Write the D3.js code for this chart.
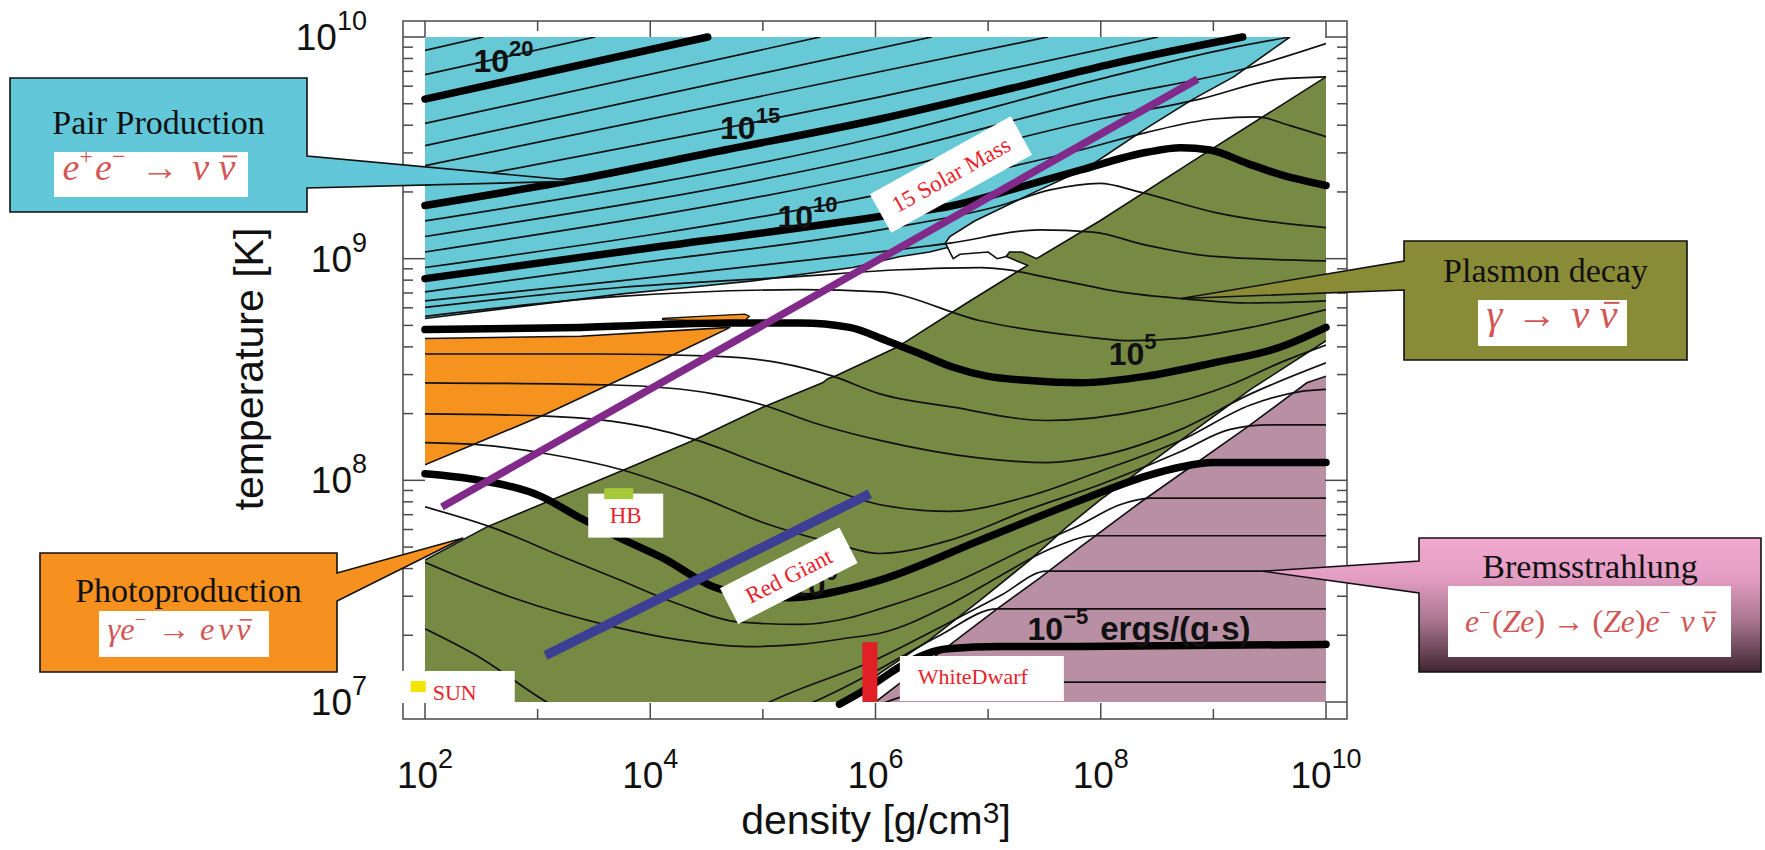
<!DOCTYPE html>
<html>
<head>
<meta charset="utf-8">
<script src="https://cdn.jsdelivr.net/npm/d3@7/dist/d3.min.js"></script>
<style>
html,body{margin:0;padding:0;background:#fff;}
svg{display:block;}
</style>
</head>
<body>
<svg id="chart" width="1765" height="850"></svg>
<script>
// ================= DATA (log10 density [g/cm^3], log10 temperature [K]) =================
const densityTickExps = [2,3,4,5,6,7,8,9,10];
const densityLabelExps = [2,4,6,8,10];
const temperatureLabelExps = [7,8,9,10];

// emissivity contour lines, level = log10(ergs/(g s))
const contours = [
 {level:22, pts:[[2.00,9.94],[2.52,10.00]]},
 {level:21, pts:[[2.00,9.83],[3.51,10.00]]},
 {level:20, pts:[[2.00,9.72],[4.51,10.00]]},
 {level:19, pts:[[2.00,9.61],[5.51,10.00]]},
 {level:18, pts:[[2.00,9.51],[6.50,10.00]]},
 {level:17, pts:[[2.00,9.42],[7.53,10.00]]},
 {level:16, pts:[[2.00,9.33],[6.04,9.73],[8.51,10.00]]},
 {level:15, pts:[[2.00,9.24],[3.38,9.36],[4.56,9.48],[6.04,9.63],[7.22,9.77],[8.11,9.88],[9.26,10.00]]},
 {level:14, pts:[[2.00,9.17],[6.04,9.55],[7.99,9.81],[9.15,9.95],[9.68,10.00]]},
 {level:13, pts:[[2.00,9.10],[6.04,9.47],[7.99,9.72],[9.30,9.86],[10.00,9.97]]},
 {level:12, pts:[[2.00,9.03],[6.04,9.39],[7.99,9.63],[8.88,9.72],[9.59,9.81],[10.00,9.82]]},
 {level:11, pts:[[2.00,8.96],[6.04,9.29],[7.82,9.49],[8.41,9.57],[9.00,9.63],[9.39,9.64],[9.68,9.60],[10.00,9.55]]},
 {level:10, pts:[[2.00,8.91],[3.73,9.03],[6.04,9.19],[6.69,9.24],[7.20,9.31],[7.82,9.40],[8.41,9.48],[8.71,9.50],[8.97,9.49],[9.30,9.43],[9.59,9.38],[10.00,9.33]]},
 {level:9,  pts:[[2.00,8.85],[3.73,8.97],[6.04,9.13],[7.11,9.24],[7.55,9.31],[7.99,9.34],[8.35,9.30],[9.00,9.21],[10.00,9.14]]},
 {level:8,  pts:[[2.00,8.81],[3.73,8.90],[5.33,8.99],[6.66,9.07],[7.46,9.13],[7.93,9.12],[8.41,9.06],[9.00,9.01],[10.00,8.99]]},
 {level:7,  pts:[[2.00,8.78],[3.73,8.87],[5.33,8.92],[6.22,8.95],[6.93,8.96],[7.67,8.90],[8.17,8.85],[8.71,8.82],[9.33,8.80],[10.00,8.81]]},
 {level:6,  pts:[[2.00,8.74],[3.73,8.83],[5.33,8.86],[6.04,8.85],[6.93,8.72],[7.82,8.65],[8.26,8.63],[8.71,8.64],[9.33,8.69],[10.00,8.77]]},
 {level:5,  pts:[[2.00,8.68],[3.38,8.69],[4.71,8.71],[5.33,8.71],[5.77,8.69],[6.10,8.63],[6.40,8.57],[6.69,8.51],[6.99,8.47],[7.37,8.45],[7.82,8.44],[8.41,8.47],[9.00,8.53],[9.59,8.60],[10.00,8.69]]},
 {level:4,  pts:[[2.00,8.57],[3.55,8.57],[4.56,8.56],[5.15,8.53],[5.62,8.47],[6.04,8.39],[6.69,8.33],[7.52,8.27],[8.41,8.32],[9.15,8.43],[9.59,8.53],[10.00,8.61]]},
 {level:3,  pts:[[2.00,8.44],[3.67,8.43],[4.56,8.39],[5.00,8.34],[5.45,8.26],[6.04,8.18],[6.93,8.10],[7.52,8.08],[7.99,8.11],[8.71,8.23],[9.33,8.39],[10.00,8.53]]},
 {level:2,  pts:[[2.00,8.30],[3.08,8.29],[3.97,8.24],[4.42,8.18],[5.00,8.07],[5.60,7.96],[6.04,7.89],[6.66,7.86],[7.37,7.93],[7.99,8.04],[8.71,8.18],[9.33,8.34],[9.77,8.40],[10.00,8.41]]},
 {level:1,  pts:[[2.00,8.17],[2.49,8.16],[3.08,8.12],[3.73,8.05],[4.42,7.93],[5.00,7.81],[5.60,7.72],[6.04,7.67],[6.66,7.73],[7.37,7.87],[7.99,7.98],[8.71,8.13],[9.15,8.23],[9.50,8.25],[10.00,8.25]]},
 {level:0,  pts:[[2.00,8.03],[2.49,8.00],[3.02,7.93],[3.38,7.83],[3.73,7.74],[4.11,7.65],[4.56,7.52],[4.89,7.48],[5.24,7.47],[5.75,7.51],[6.04,7.55],[6.93,7.73],[7.82,7.91],[8.41,8.02],[8.71,8.06],[9.00,8.08],[10.00,8.08]]},
 {level:-1, pts:[[2.00,7.88],[2.58,7.79],[3.20,7.66],[3.73,7.55],[4.26,7.44],[4.80,7.36],[5.33,7.35],[5.77,7.38],[6.04,7.42],[6.66,7.53],[7.37,7.70],[7.82,7.80],[8.17,7.89],[8.44,7.92],[10.00,7.92]]},
 {level:-2, pts:[[2.00,7.63],[2.78,7.47],[3.67,7.34],[4.26,7.28],[4.86,7.25],[5.33,7.26],[5.77,7.29],[6.04,7.31],[6.66,7.44],[7.11,7.57],[7.55,7.69],[7.95,7.75],[10.00,7.75]]},
 {level:-3, pts:[[2.00,7.33],[2.49,7.20],[3.08,7.00],[3.70,6.85],[4.50,6.85],[5.06,7.00],[6.04,7.20],[6.66,7.36],[7.11,7.48],[7.52,7.59],[10.00,7.59]]},
 {level:-4, pts:[[4.44,6.85],[5.45,7.00],[6.04,7.15],[6.57,7.30],[7.08,7.42],[10.00,7.42]]},
 {level:-5, pts:[[5.68,6.99],[5.89,7.05],[6.04,7.10],[6.22,7.16],[6.64,7.24],[7.11,7.25],[7.82,7.25],[10.00,7.26]]},
 {level:-6, pts:[[6.04,6.99],[6.40,7.05],[6.75,7.09],[10.00,7.09]]}
];

// region boundaries (dominant process)
const pairEdge = [[9.68,10.00],[9.18,9.82],[8.82,9.72],[8.41,9.59],[7.88,9.41],[7.37,9.29],[6.88,9.17],[6.66,9.10],[6.62,9.07],[6.64,9.05],[6.48,9.03],[6.22,9.01],[5.80,8.96],[4.91,8.90],[4.33,8.87],[3.73,8.84],[2.00,8.73]];
const photoEdge = [[2.00,8.64],[3.38,8.65],[4.71,8.69],[4.26,8.58],[3.08,8.30],[2.00,8.07]];
const photoTongue = [[4.11,8.73],[4.44,8.74],[4.84,8.75],[4.88,8.74],[4.84,8.72],[4.44,8.72],[4.11,8.725]];
const plasmonUpperEdge = [[2.00,7.64],[2.55,7.79],[3.78,8.05],[4.38,8.18],[5.00,8.33],[5.53,8.44],[5.58,8.46],[5.64,8.47],[6.19,8.60],[6.81,8.80],[7.35,8.97],[7.16,9.01],[7.19,9.03],[7.30,9.03],[7.43,9.00],[7.99,9.17],[8.88,9.46],[10.00,9.82]];
const plasmonLowerEdge = [[10.00,8.63],[9.33,8.41],[8.71,8.18],[7.99,7.91],[7.70,7.79],[7.37,7.64],[6.93,7.46],[6.48,7.28],[6.04,7.13],[5.73,7.00]];
const bremsEdge = [[6.00,7.00],[6.64,7.25],[7.08,7.42],[7.46,7.56],[7.82,7.70],[8.35,7.90],[9.30,8.24],[9.83,8.44],[10.00,8.47]];
const pocketEdge = [[6.64,9.05],[6.69,9.00],[6.75,9.02],[7.00,9.03],[7.08,9.00],[7.16,9.01]];

// stellar tracks / objects
const solarMass15 = [[2.15,7.88],[8.86,9.81]];
const redGiant = [[3.07,7.21],[5.95,7.94]];
const hbPoint = [3.72,7.94];
const sunPoint = [1.94,7.07];
const whiteDwarf = [[5.95,7.00],[5.95,7.27]];
const solarLabelAt = [6.67,9.38];
const redGiantLabelAt = [5.23,7.57];

const contourLabels = [
 {base:"10", exp:"20", at:[2.43,9.84]},
 {base:"10", exp:"15", at:[4.62,9.54]},
 {base:"10", exp:"10", at:[5.13,9.14]},
 {base:"10", exp:"5",  at:[8.07,8.52]},
 {base:"10", exp:"0",  at:[5.24,7.48]},
 {base:"10", exp:"\u22125", at:[7.35,7.28], unit:"ergs/(g\u00B7s)"}
];

const formulaPair = [["e","i"],["+","sup"],["e","i"],["\u2212","sup"],[0.35,"sp"],["\u2192","r"],[0.35,"sp"],["\u03BD","i"],[0.25,"sp"],["\u03BD","ib"]];
const formulaPlasmon = [["\u03B3","i"],[0.35,"sp"],["\u2192","r"],[0.35,"sp"],["\u03BD","i"],[0.25,"sp"],["\u03BD","ib"]];
const formulaPhoto = [["\u03B3","i"],["e","i"],["\u2212","sup"],[0.3,"sp"],["\u2192","r"],[0.3,"sp"],["e","i"],[0.12,"sp"],["\u03BD","i"],[0.1,"sp"],["\u03BD","ib"]];
const formulaBrems = [["e","i"],["\u2212","sup"],["(","r"],["Z","i"],["e","i"],[")","r"],[0.25,"sp"],["\u2192","r"],[0.25,"sp"],["(","r"],["Z","i"],["e","i"],[")","r"],["e","i"],["\u2212","sup"],[0.25,"sp"],["\u03BD","i"],[0.2,"sp"],["\u03BD","ib"]];

const callouts = [
 {title:"Pair Production", tip:[3.38,9.35], formula:formulaPair},
 {title:"Plasmon decay",   tip:[8.71,8.82], formula:formulaPlasmon},
 {title:"Photoproduction", tip:[2.34,7.74], formula:formulaPhoto},
 {title:"Bremsstrahlung",  tip:[9.44,7.59], formula:formulaBrems}
];

// ================= STYLE / LAYOUT =================
const colors = {
  cyan:"#67c8d6", orange:"#f6921e", green:"#778a43", mauve:"#b98fa4",
  purple:"#812a8a", blue:"#3c3f94", red:"#e8222b", hb:"#a6c93a", sun:"#f3e500", wd:"#e11f26",
  formula:"#d15757", pairBox:"#61c7d9", plasmonBox:"#8a8b37", photoBox:"#f6911f"
};
const calloutLayout = [
 {x:10,   y:78,  w:297, h:134, side:"right", n0:156, n1:188, fill:colors.pairBox, titleY:134, fb:[54,152,194,45], fcx:149, fy:180, fw:173},
 {x:1404, y:241, w:283, h:119, side:"left",  n0:261, n1:290, fill:colors.plasmonBox, titleY:282, fb:[1478,300,149,46], fcx:1552, fy:328, fw:131},
 {x:40,   y:553, w:297, h:119, side:"right", n0:573, n1:601, fill:colors.photoBox, titleY:602, fb:[99,611,170,46], fcx:179, fy:640, fw:143},
 {x:1419, y:538, w:342, h:134, side:"left",  n0:561, n1:593, fill:"url(#bremsGrad)", titleY:578, fb:[1448,586,283,71], fcx:1590, fy:632, fw:250}
];

const SANS = "'Liberation Sans', Arial, Helvetica, sans-serif";
const SERIF = "'Liberation Serif', 'Times New Roman', serif";

// ================= SCALES =================
const x = d3.scaleLog().domain([1e2,1e10]).range([425,1326]);
const y = d3.scaleLog().domain([1e7,1e10]).range([702,37]);
const px = d => x(Math.pow(10,d[0]));
const py = d => y(Math.pow(10,d[1]));
const smooth = d3.line().x(px).y(py).curve(d3.curveMonotoneX);
const straight = d3.line().x(px).y(py);
const closed = d3.line().x(px).y(py).curve(d3.curveLinearClosed);

const svg = d3.select("#chart");
const defs = svg.append("defs");
const X0 = x.range()[0], X1 = x.range()[1], Y0 = y.range()[1], Y1 = y.range()[0];
defs.append("clipPath").attr("id","clipData").append("rect")
  .attr("x",X0).attr("y",Y0).attr("width",X1-X0).attr("height",Y1-Y0);
defs.append("clipPath").attr("id","clipThick").append("rect")
  .attr("x",X0-6).attr("y",Y0-6).attr("width",X1-X0+12).attr("height",Y1-Y0+12);
const grad = defs.append("linearGradient").attr("id","bremsGrad").attr("x1",0).attr("y1",0).attr("x2",0).attr("y2",1);
[["0%","#f3a9d1"],["30%","#e39dc3"],["62%","#a8758f"],["100%","#40252f"]].forEach(s=>grad.append("stop").attr("offset",s[0]).attr("stop-color",s[1]));

svg.append("rect").attr("width",1765).attr("height",850).attr("fill","#fff");

// ---------- regions ----------
const gReg = svg.append("g").attr("clip-path","url(#clipData)");
gReg.append("path").attr("d", closed([[2,10], ...pairEdge])).attr("fill", colors.cyan);
gReg.append("path").attr("d", closed(photoEdge)).attr("fill", colors.orange);
gReg.append("path").attr("d", closed([[2,7], ...plasmonUpperEdge, ...plasmonLowerEdge])).attr("fill", colors.green);
gReg.append("path").attr("d", closed([...bremsEdge, [10,7]])).attr("fill", colors.mauve);

// ---------- thin contours ----------
const gThin = svg.append("g").attr("clip-path","url(#clipData)");
gThin.selectAll("path").data(contours.filter(c => c.level % 5 !== 0)).join("path")
  .attr("d", c => smooth(c.pts)).attr("fill","none").attr("stroke","#111").attr("stroke-width",1.7);

// ---------- region outlines ----------
const gEdge = svg.append("g").attr("clip-path","url(#clipData)").attr("fill","none").attr("stroke","#111").attr("stroke-width",1.6);
[pairEdge, photoEdge, plasmonUpperEdge, plasmonLowerEdge, bremsEdge, pocketEdge].forEach(e => gEdge.append("path").attr("d", straight(e)));
svg.append("path").attr("d", closed(photoTongue)).attr("fill", colors.orange).attr("stroke","#111").attr("stroke-width",1.3);

// ---------- thick contours ----------
const gThick = svg.append("g").attr("clip-path","url(#clipThick)");
gThick.selectAll("path").data(contours.filter(c => c.level % 5 === 0)).join("path")
  .attr("d", c => smooth(c.pts)).attr("fill","none").attr("stroke","#000")
  .attr("stroke-width",7.5).attr("stroke-linecap","round").attr("stroke-linejoin","round");

// ---------- frame & ticks ----------
const F = {l:403, t:21, r:1347, b:719};
const gAx = svg.append("g").attr("stroke","#4a4a4a").attr("stroke-width",1.5);
densityTickExps.forEach(e => {
  const xx = x(Math.pow(10,e)), len = densityLabelExps.includes(e) ? 16 : 10;
  gAx.append("line").attr("x1",xx).attr("x2",xx).attr("y1",F.b).attr("y2",F.b-len);
  gAx.append("line").attr("x1",xx).attr("x2",xx).attr("y1",F.t).attr("y2",F.t+len);
});
y.ticks().forEach(v => {
  const yy = y(v), lg = Math.log10(v), major = Math.abs(lg - Math.round(lg)) < 1e-9, len = major ? 22 : 10;
  gAx.append("line").attr("x1",F.l).attr("x2",F.l+len).attr("y1",yy).attr("y2",yy);
  gAx.append("line").attr("x1",F.r).attr("x2",F.r-len).attr("y1",yy).attr("y2",yy);
});
gAx.append("rect").attr("x",F.l).attr("y",F.t).attr("width",F.r-F.l).attr("height",F.b-F.t).attr("fill","none");

// tick labels
const gTL = svg.append("g").attr("font-family",SANS).attr("fill","#111");
densityLabelExps.forEach(e => {
  const t = gTL.append("text").attr("x", x(Math.pow(10,e))).attr("y",788).attr("text-anchor","middle");
  t.append("tspan").attr("font-size",37).text("10");
  t.append("tspan").attr("font-size",27).attr("dy",-20).text(e);
});
temperatureLabelExps.forEach(e => {
  const t = gTL.append("text").attr("x",367).attr("y", y(Math.pow(10,e)) + 13).attr("text-anchor","end");
  t.append("tspan").attr("font-size",37).text("10");
  t.append("tspan").attr("font-size",27).attr("dy",-20).text(e);
});
// axis titles
const xt = gTL.append("text").attr("x",876).attr("y",834).attr("text-anchor","middle").attr("font-size",41);
xt.append("tspan").text("density [g/cm");
xt.append("tspan").attr("font-size",30).attr("dy",-11).text("3");
xt.append("tspan").attr("dy",11).text("]");
gTL.append("text").attr("transform","translate(263,369) rotate(-90)").attr("text-anchor","middle")
  .attr("font-size",41).text("temperature [K]");

// ---------- contour labels ----------
const gCL = svg.append("g").attr("font-family",SANS).attr("font-weight","bold").attr("fill","#111");
contourLabels.forEach(l => {
  const t = gCL.append("text").attr("x", px(l.at)).attr("y", py(l.at));
  t.append("tspan").attr("font-size",32).text(l.base);
  t.append("tspan").attr("font-size",22).attr("dy",-16).text(l.exp);
  if (l.unit) t.append("tspan").attr("font-size",33).attr("dy",16).attr("dx",12).text(l.unit);
});

// ---------- stellar tracks ----------
svg.append("path").attr("d", straight(solarMass15)).attr("stroke",colors.purple).attr("stroke-width",7.5).attr("fill","none");
svg.append("path").attr("d", straight(redGiant)).attr("stroke",colors.blue).attr("stroke-width",9.5).attr("fill","none");

function rotatedLabel(at, w, h, angle, text) {
  const g = svg.append("g").attr("transform", `translate(${px(at)},${py(at)}) rotate(${angle})`);
  g.append("rect").attr("x",-w/2).attr("y",-h/2).attr("width",w).attr("height",h).attr("fill","#fff");
  g.append("text").attr("x",0).attr("y",8).attr("text-anchor","middle").attr("font-family",SERIF)
    .attr("font-size",23).attr("fill",colors.red).text(text);
}
rotatedLabel(solarLabelAt, 161, 44, -29, "15 Solar Mass");
rotatedLabel(redGiantLabelAt, 134, 40, -27, "Red Giant");

// HB
{
  const cx = px(hbPoint), cy = py(hbPoint);
  svg.append("rect").attr("x",cx-30.5).attr("y",cy).attr("width",75).attr("height",44).attr("fill","#fff");
  svg.append("rect").attr("x",cx-14.5).attr("y",cy-5.5).attr("width",29).attr("height",11).attr("fill",colors.hb);
  svg.append("text").attr("x",cx+7).attr("y",cy+29).attr("text-anchor","middle").attr("font-family",SERIF)
    .attr("font-size",23).attr("fill",colors.red).text("HB");
}
// SUN
{
  const cx = px(sunPoint), cy = py(sunPoint);
  svg.append("rect").attr("x",cx-16.5).attr("y",cy-15.5).attr("width",113).attr("height",32).attr("fill","#fff");
  svg.append("rect").attr("x",cx-7.5).attr("y",cy-5.5).attr("width",15).attr("height",11).attr("fill",colors.sun);
  svg.append("text").attr("x",cx+14.5).attr("y",cy+13.5).attr("font-family",SERIF)
    .attr("font-size",22).attr("fill",colors.red).text("SUN");
}
// White dwarf
{
  const bx = px(whiteDwarf[0]), by0 = py(whiteDwarf[0]), by1 = py(whiteDwarf[1]);
  svg.append("rect").attr("x",bx-7.5).attr("y",by1).attr("width",15).attr("height",by0-by1).attr("fill",colors.wd);
  svg.append("rect").attr("x",bx+30).attr("y",by0-46).attr("width",164).attr("height",45).attr("fill","#fff");
  svg.append("text").attr("x",bx+48).attr("y",by0-18).attr("font-family",SERIF)
    .attr("font-size",22).attr("fill",colors.red).text("WhiteDwarf");
}

// ---------- callouts ----------
function drawFormula(parent, segs, cx, baseline, targetW) {
  const size = 28;
  const g = parent.append("g");
  let xp = 0;
  segs.forEach(([t,k]) => {
    if (k === "sp") { xp += t*size; return; }
    const isSup = k === "sup";
    const el = g.append("text").attr("x", xp).attr("y", isSup ? -size*0.42 : 0)
      .attr("font-family", SERIF)
      .attr("font-style", (k === "i" || k === "ib") ? "italic" : "normal")
      .attr("font-size", isSup ? size*0.62 : size)
      .attr("fill", colors.formula).text(t);
    const w = el.node().getComputedTextLength();
    if (k === "ib") {
      g.append("line").attr("x1", xp + w*0.25).attr("x2", xp + w*1.1)
        .attr("y1", -size*0.62).attr("y2", -size*0.62)
        .attr("stroke", colors.formula).attr("stroke-width", 1.4);
    }
    xp += w + (isSup ? size*0.06 : 0);
  });
  const s = targetW / xp;
  g.attr("transform", `translate(${cx - xp*s/2},${baseline}) scale(${s})`);
}

callouts.forEach((c, i) => {
  const L = calloutLayout[i];
  const tx = px(c.tip), ty = py(c.tip);
  let d;
  if (L.side === "right") {
    d = `M${L.x},${L.y} H${L.x+L.w} V${L.n0} L${tx},${ty} L${L.x+L.w},${L.n1} V${L.y+L.h} H${L.x} Z`;
  } else {
    d = `M${L.x},${L.y} H${L.x+L.w} V${L.y+L.h} H${L.x} V${L.n1} L${tx},${ty} L${L.x},${L.n0} Z`;
  }
  const g = svg.append("g");
  g.append("path").attr("d", d).attr("fill", L.fill).attr("stroke","#111").attr("stroke-width",1.6).attr("stroke-linejoin","miter");
  g.append("text").attr("x", L.x + L.w/2).attr("y", L.titleY).attr("text-anchor","middle")
    .attr("font-family", SERIF).attr("font-size",34).attr("fill","#111").text(c.title);
  g.append("rect").attr("x",L.fb[0]).attr("y",L.fb[1]).attr("width",L.fb[2]).attr("height",L.fb[3]).attr("fill","#fff");
  drawFormula(g, c.formula, L.fcx, L.fy, L.fw);
});
</script>
</body>
</html>
